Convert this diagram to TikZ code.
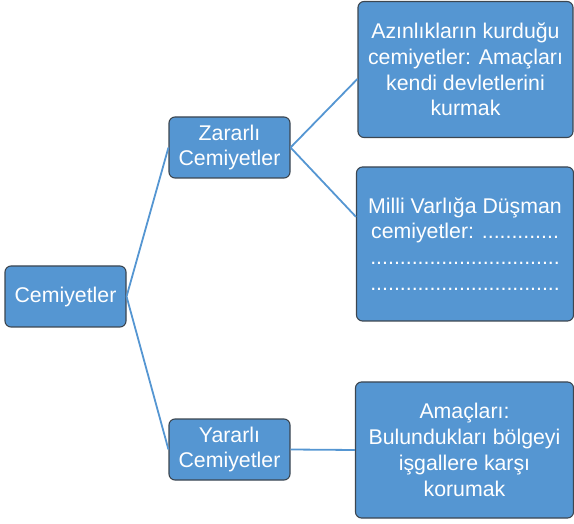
\documentclass[tikz,border=0pt]{standalone}
\usepackage{fontspec}
\setmainfont{Liberation Sans}
\definecolor{boxfill}{HTML}{5596D2}
\definecolor{boxline}{HTML}{3C4650}
\definecolor{connblue}{HTML}{5596D2}
\begin{document}
\begin{tikzpicture}[x=1pt,y=-1pt,
  box/.style={draw=boxline,line width=1.1pt,fill=boxfill,rounded corners=6pt,
    text=white,align=center,inner sep=0pt,
    font=\fontsize{21.3}{25.8}\selectfont},
  connector/.style={draw=connblue,line width=1.8pt}]
\useasboundingbox (0,0) rectangle (574,524);
\node[box,minimum width=121pt,minimum height=61pt] (root) at (65.5,296.5) {Cemiyetler};
\node[box,minimum width=121pt,minimum height=61pt] (zar) at (229.5,147.5) {Zararlı\\Cemiyetler};
\node[box,minimum width=121pt,minimum height=61pt] (yar) at (229.5,449.5) {Yararlı\\Cemiyetler};
\node[box,minimum width=215pt,minimum height=136pt] (top) at (465.5,69.5) {Azınlıkların kurduğu\\cemiyetler: Amaçları\\kendi devletlerini\\kurmak};
\node[box,minimum width=217pt,minimum height=154pt] (mid) at (465,244) {Milli Varlığa Düşman\\cemiyetler: .............\\................................\\................................};
\node[box,minimum width=218pt,minimum height=136pt] (bot) at (464.5,450) {Amaçları:\\Bulundukları bölgeyi\\işgallere karşı\\korumak};
\draw[connector] (root.east) -- (zar.west);
\draw[connector] (root.east) -- (yar.west);
\draw[connector] (zar.east) -- (top.185.6);
\draw[connector] (zar.east) -- (mid.166);
\draw[connector] (yar.east) -- (bot.west);
\end{tikzpicture}
\end{document}
